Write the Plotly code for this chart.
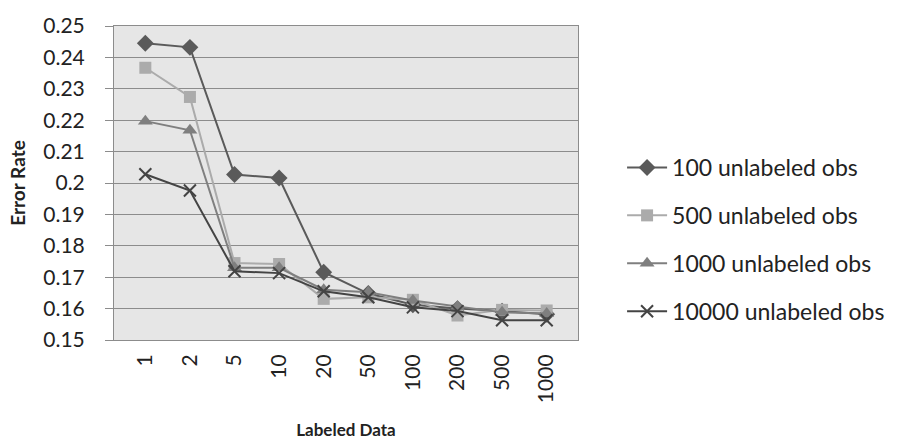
import plotly.graph_objects as go

# Labeled sample sizes (categorical x axis)
labeled = ["1", "2", "5", "10", "20", "50", "100", "200", "500", "1000"]

# Error rate per number of unlabeled observations
err_100 = [0.2445, 0.2432, 0.2027, 0.2016, 0.1716, 0.1648, 0.1612, 0.1600, 0.1592, 0.1582]
err_500 = [0.2367, 0.2274, 0.1745, 0.1742, 0.1631, 0.1636, 0.1628, 0.1578, 0.1596, 0.1594]
err_1000 = [0.2197, 0.2168, 0.1730, 0.1730, 0.1660, 0.1652, 0.1626, 0.1606, 0.1588, 0.1584]
err_10000 = [0.2028, 0.1976, 0.1719, 0.1713, 0.1655, 0.1636, 0.1604, 0.1592, 0.1563, 0.1563]

series_names = ["100 unlabeled obs", "500 unlabeled obs",
                "1000 unlabeled obs", "10000 unlabeled obs"]

y_ticks = [0.15, 0.16, 0.17, 0.18, 0.19, 0.20, 0.21, 0.22, 0.23, 0.24, 0.25]
y_tick_text = ["0.15", "0.16", "0.17", "0.18", "0.19", "0.2",
               "0.21", "0.22", "0.23", "0.24", "0.25"]

styles = [
    dict(color="#5a5a5a", symbol="diamond", size=13),
    dict(color="#ababab", symbol="square", size=12),
    dict(color="#7f7f7f", symbol="triangle-up", size=13),
    dict(color="#444444", symbol="x-thin", size=12),
]

fig = go.Figure()
for name, ys, st in zip(series_names, [err_100, err_500, err_1000, err_10000], styles):
    marker = dict(symbol=st["symbol"], size=st["size"], color=st["color"])
    if st["symbol"] == "x-thin":
        marker["line"] = dict(color=st["color"], width=2)
    fig.add_trace(go.Scatter(
        x=labeled, y=ys, name=name, mode="lines+markers",
        line=dict(color=st["color"], width=2),
        marker=marker, legendgroup=name,
    ))

font_family = "Lato, 'Open Sans', sans-serif"

fig.update_layout(
    width=903, height=448,
    margin=dict(l=114, r=325, t=19, b=108),
    paper_bgcolor="white",
    plot_bgcolor="#e6e6e6",
    font=dict(family=font_family, size=18, color="#222222"),
    showlegend=True,
    legend=dict(
        x=1.095, y=0.32, xanchor="left", yanchor="middle",
        font=dict(size=23, color="#222222"),
        traceorder="grouped", tracegroupgap=15,
        bgcolor="rgba(0,0,0,0)", itemwidth=40,
    ),
    xaxis=dict(
        type="category",
        tickangle=-90,
        tickfont=dict(size=21),
        ticklabelstandoff=5,
        showgrid=False,
        showline=True, linecolor="#8c8c8c", linewidth=1, mirror=True,
        ticks="",
        title=dict(text="<b>Labeled Data</b>", font=dict(size=17), standoff=21),
    ),
    yaxis=dict(
        range=[0.15, 0.25],
        tickvals=y_ticks, ticktext=y_tick_text,
        tickfont=dict(size=21),
        ticklabelstandoff=16,
        showgrid=True, gridcolor="#8c8c8c", gridwidth=1,
        zeroline=False,
        showline=True, linecolor="#8c8c8c", linewidth=1, mirror=True,
        ticks="outside", ticklen=8, tickcolor="#8c8c8c",
        title=dict(text="<b>Error Rate</b>", font=dict(size=19), standoff=12),
    ),
)

fig.write_html("out.html")
